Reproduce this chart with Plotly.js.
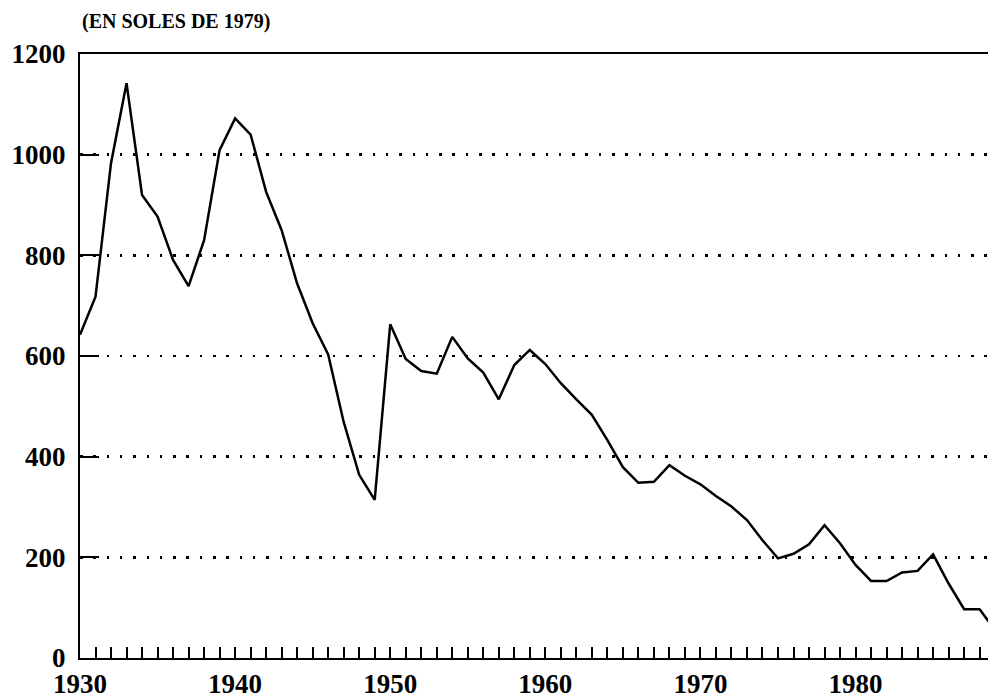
<!DOCTYPE html>
<html>
<head>
<meta charset="utf-8">
<script src="https://cdn.plot.ly/plotly-3.0.1.min.js"></script>
<style>html,body{margin:0;padding:0;background:#fff;}#chart{width:988px;height:699px;}</style>
</head>
<body>
<div id="chart"></div>
<script>
const years = [1930,1931,1932,1933,1934,1935,1936,1937,1938,1939,
               1940,1941,1942,1943,1944,1945,1946,1947,1948,1949,
               1950,1951,1952,1953,1954,1955,1956,1957,1958,1959,
               1960,1961,1962,1963,1964,1965,1966,1967,1968,1969,
               1970,1971,1972,1973,1974,1975,1976,1977,1978,1979,
               1980,1981,1982,1983,1984,1985,1986,1987,1988,1989];
const values = [642,718,983,1142,920,877,791,739,830,1009,
                1072,1040,926,850,744,665,603,469,364,314,
                663,594,570,565,638,595,567,514,582,612,
                584,546,514,483,433,379,348,350,383,362,
                345,322,301,274,234,198,207,226,264,228,
                185,153,153,170,173,206,148,97,97,55];
const yTickVals = [0,200,400,600,800,1000,1200];
const xTickVals = [1930,1940,1950,1960,1970,1980];
const unitLabel = "(EN SOLES DE 1979)";

const serif = "Liberation Serif";

const trace = {
  x: years, y: values, type: "scatter", mode: "lines",
  line: {color: "#000", width: 2.5},
  hoverinfo: "skip"
};

const layout = {
  width: 988, height: 699,
  margin: {l: 80, r: 0, t: 54, b: 41},
  paper_bgcolor: "#fff", plot_bgcolor: "#fff",
  showlegend: false,
  xaxis: {
    range: [1930, 1988.54],
    tickmode: "array", tickvals: xTickVals,
    ticks: "inside", ticklen: 11, tickwidth: 2, tickcolor: "#000",
    showline: true, linecolor: "#000", linewidth: 2, mirror: true,
    showgrid: false, zeroline: false,
    tickfont: {family: serif, size: 27, color: "#000", weight: "bold"},
    ticklabelstandoff: 1,
    minor: {dtick: 1, ticks: "inside", ticklen: 11, tickwidth: 2, tickcolor: "#000", showgrid: false}
  },
  yaxis: {
    range: [0, 1200],
    tickmode: "array", tickvals: yTickVals, tickformat: "d",
    ticks: "inside", ticklen: 19, tickwidth: 2, tickcolor: "#000",
    showline: true, linecolor: "#000", linewidth: 2, mirror: false,
    showgrid: true, gridcolor: "#000", gridwidth: 2.5, griddash: "2.5px,10.8px",
    zeroline: false,
    tickfont: {family: serif, size: 27, color: "#000", weight: "bold"},
    ticklabelstandoff: 7
  },
  annotations: [{
    text: unitLabel, xref: "paper", yref: "paper",
    x: 0, y: 1, xanchor: "left", yanchor: "bottom", yshift: 19,
    showarrow: false,
    font: {family: serif, size: 20, color: "#000", weight: "bold"}
  }]
};

Plotly.newPlot("chart", [trace], layout, {displayModeBar: false, staticPlot: true});
</script>
</body>
</html>
